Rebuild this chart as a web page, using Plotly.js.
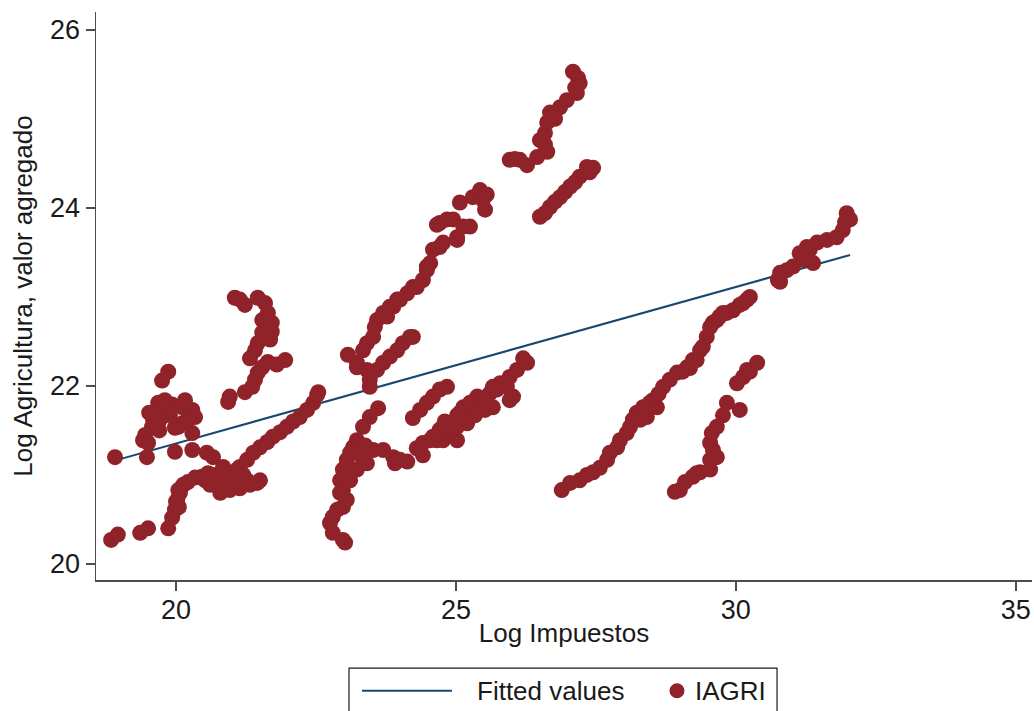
<!DOCTYPE html>
<html>
<head>
<meta charset="utf-8">
<script src="https://cdn.plot.ly/plotly-3.0.1.min.js"></script>
<style>
html,body{margin:0;padding:0;background:#fff;}
#chart{width:1034px;height:711px;}
</style>
</head>
<body>
<div id="chart"></div>
<script>
// ---- Data ----
// Fitted values (linear fit)
const fitX = [18.84, 32.04];
const fitY = [21.15, 23.47];

// IAGRI observations, grouped by visible curve
const x_g1 = [18.84,18.96,19.36,19.50,19.86,19.93,19.98,20.02,20.07,20.13,20.05,20.21,20.34,20.46,20.57,20.55,20.66,20.84,20.73,20.79,20.96,21.27,21.45,21.50,20.84,21.02,21.14,21.27,21.38,21.50,21.63,21.73,21.86,21.98,22.09,22.21,22.34,22.45,22.52,22.54,20.61,20.70,20.88,21.05,21.14,21.32,20.93,21.09,21.20,20.52,20.04,20.00];
const y_g1 = [20.27,20.33,20.35,20.40,20.40,20.52,20.61,20.72,20.80,20.89,20.64,20.92,20.97,20.98,21.02,21.25,21.20,21.09,20.94,20.80,20.83,20.94,20.91,20.94,20.94,21.02,21.09,21.17,21.25,21.31,21.37,21.43,21.48,21.54,21.60,21.65,21.73,21.81,21.90,21.93,20.89,21.00,20.89,20.92,20.85,20.89,21.00,21.06,21.00,20.94,20.83,20.70];

const x_g2 = [18.91,19.75,19.86,19.68,19.75,19.63,19.59,19.57,19.45,19.41,19.50,19.93,20.11,20.29,20.34,20.21,20.11,20.04,19.98,19.48,19.98,20.29,20.29,19.80,19.89,19.71,20.16,19.52,19.70];
const y_g2 = [21.20,22.06,22.16,21.81,21.76,21.70,21.62,21.54,21.45,21.39,21.36,21.79,21.76,21.73,21.65,21.62,21.58,21.54,21.53,21.20,21.26,21.28,21.47,21.84,21.67,21.62,21.84,21.70,21.50];

const x_g3 = [21.05,21.23,21.46,21.59,21.64,21.71,21.71,21.54,21.46,21.41,21.32,21.54,21.64,21.80,21.95,21.41,21.36,21.23,20.96,20.93,21.14,21.54,21.68,21.46];
const y_g3 = [22.99,22.91,22.99,22.93,22.82,22.71,22.61,22.60,22.48,22.40,22.31,22.21,22.27,22.24,22.29,22.07,21.99,21.93,21.88,21.82,22.97,22.74,22.52,22.15];

const x_g4 = [23.61,23.46,23.34,23.23,23.16,23.52,23.41,23.05,22.98,22.93,22.98,23.05,22.98,22.80,22.75,22.80,22.98,23.02,23.11,23.29,23.23,23.11,22.93,22.88,23.38,23.70,23.88,24.00,24.13,23.91];
const y_g4 = [21.75,21.65,21.54,21.39,21.31,21.28,21.13,21.17,21.06,20.94,20.83,20.72,20.64,20.53,20.46,20.35,20.27,20.24,21.25,21.22,21.06,20.94,20.80,20.61,21.33,21.28,21.20,21.17,21.15,21.13];

const x_g5 = [23.34,23.41,23.52,23.55,23.59,23.70,23.82,23.95,24.13,24.23,24.41,24.48,24.54,24.59,24.71,24.77,25.02,25.02,24.71,24.95,25.13,25.25,25.07,25.30,25.43,25.48,25.52,25.55,24.84,24.66,24.00,23.88,23.77,24.30,24.48,23.07,23.23,23.41,23.46,23.46,23.23,23.59,23.70,23.82,23.95,24.05,24.18,24.23];
const y_g5 = [22.40,22.48,22.55,22.66,22.74,22.82,22.89,22.97,23.04,23.11,23.19,23.30,23.38,23.53,23.56,23.61,23.67,23.64,23.83,23.87,23.79,23.79,24.06,24.12,24.20,24.09,23.98,24.15,23.87,23.81,22.97,22.89,22.78,23.11,23.34,22.35,22.26,22.18,22.07,21.99,22.21,22.18,22.26,22.33,22.40,22.48,22.55,22.55];

const x_g6 = [24.23,24.36,24.48,24.59,24.71,24.84];
const y_g6 = [21.64,21.73,21.81,21.88,21.96,21.99];

const x_g7 = [24.41,24.30,24.41,24.54,24.66,24.77,24.84,25.02,24.89,25.02,25.20,25.07,25.13,25.25,25.38,25.48,25.66,25.61,25.66,25.79,26.02,25.96,25.91,25.96,26.09,26.20,26.27,24.80,24.95,24.84,25.20,25.30,25.43,25.55,25.73,25.02,24.71,24.59,25.34,25.52];
const y_g7 = [21.22,21.30,21.36,21.39,21.39,21.39,21.43,21.39,21.51,21.54,21.58,21.70,21.76,21.81,21.88,21.84,21.76,21.92,21.99,22.03,21.88,21.84,21.99,22.10,22.18,22.31,22.26,21.60,21.58,21.54,21.73,21.81,21.84,21.88,21.96,21.67,21.51,21.43,21.67,21.73];

const x_g8 = [25.96,26.14,26.27,26.45,26.63,26.59,26.50,26.59,26.63,26.68,26.86,26.98,27.16,27.21,27.09,27.18,27.13,26.77,26.05];
const y_g8 = [24.54,24.54,24.48,24.57,24.63,24.71,24.76,24.84,24.96,25.07,25.13,25.21,25.29,25.40,25.53,25.46,25.35,25.00,24.55];

const x_g9 = [26.50,26.59,26.68,26.77,26.86,26.95,27.04,27.13,27.21,27.34,27.45,27.39];
const y_g9 = [23.90,23.94,24.01,24.07,24.12,24.18,24.24,24.29,24.35,24.46,24.45,24.40];

const x_g10 = [26.89,27.04,27.21,27.34,27.45,27.57,27.70,27.75,27.88,27.93,28.05,28.11,28.16,28.23,28.34,28.46,28.52,28.59,28.41,28.29,28.38,28.70,28.82,28.95,29.05,29.18,29.30,29.36,29.41,29.48,29.59,29.71,29.84,29.95,30.07,30.20,30.25,29.66,29.54,29.23,29.13,30.13,29.77,28.62];
const y_g10 = [20.83,20.91,20.94,21.00,21.03,21.08,21.17,21.25,21.31,21.39,21.47,21.54,21.62,21.70,21.76,21.81,21.84,21.76,21.65,21.62,21.73,21.99,22.07,22.15,22.16,22.20,22.29,22.40,22.44,22.55,22.71,22.78,22.82,22.85,22.91,22.97,23.00,22.74,22.66,22.29,22.21,22.93,22.82,21.91];

const x_g11 = [28.91,29.09,29.23,29.36,29.54,29.54,29.66,29.59,29.54,29.57,29.66,29.77,29.84,30.07,30.02,30.13,30.25,30.38,30.20,29.00,29.30];
const y_g11 = [20.81,20.92,20.98,21.03,21.06,21.17,21.20,21.28,21.36,21.47,21.54,21.67,21.81,21.73,22.03,22.10,22.16,22.26,22.18,20.83,21.02];

const x_g12 = [30.75,30.79,30.91,31.02,31.14,31.20,31.38,31.27,31.45,31.63,31.80,31.91,31.98,32.04,30.79,31.32,31.95];
const y_g12 = [23.19,23.27,23.30,23.34,23.49,23.42,23.38,23.56,23.61,23.64,23.67,23.75,23.94,23.87,23.17,23.53,23.84];

const xTicks = [20, 25, 30, 35];
const yTicks = [20, 22, 24, 26];

const seriesNames = ["Fitted values", "IAGRI"];
const xTitle = "Log Impuestos";
const yTitle = "Log Agricultura, valor agregado";

// ---- Build ----
const iagriX = [].concat(x_g1, x_g2, x_g3, x_g4, x_g5, x_g6, x_g7, x_g8, x_g9, x_g10, x_g11, x_g12);
const iagriY = [].concat(y_g1, y_g2, y_g3, y_g4, y_g5, y_g6, y_g7, y_g8, y_g9, y_g10, y_g11, y_g12);

const FONT = "Liberation Sans, Arial, Helvetica, sans-serif";
const AXIS_COL = "#4d4d4d";
const TXT_COL = "#1a1a1a";
const LINE_COL = "#1a476f";
const MARK_COL = "#90222a";

const traces = [
  {
    x: fitX, y: fitY, type: "scatter", mode: "lines", name: seriesNames[0],
    line: {color: LINE_COL, width: 2}, showlegend: false
  },
  {
    x: iagriX, y: iagriY, type: "scatter", mode: "markers", name: seriesNames[1],
    marker: {color: MARK_COL, size: 16, line: {width: 0}}, showlegend: false
  }
];

// Legend box drawn below the plot (paper coordinates)
const legY = -0.195;
const shapes = [
  {type: "rect", xref: "paper", yref: "paper", x0: 0.2703, x1: 0.7276, y0: -0.155, y1: -0.25,
   line: {color: TXT_COL, width: 1.2}, fillcolor: "rgba(0,0,0,0)"},
  {type: "line", xref: "paper", yref: "paper", x0: 0.2842, x1: 0.3803, y0: legY, y1: legY,
   line: {color: LINE_COL, width: 2}},
  {type: "circle", xref: "paper", yref: "paper", x0: 0.6127, x1: 0.6287, y0: legY + 0.0132, y1: legY - 0.0132,
   line: {width: 0}, fillcolor: MARK_COL}
];
const annotations = [
  {xref: "paper", yref: "paper", x: 0.4049, y: legY, xanchor: "left", yanchor: "middle",
   text: seriesNames[0], showarrow: false, font: {family: FONT, size: 26, color: TXT_COL}},
  {xref: "paper", yref: "paper", x: 0.6378, y: legY, xanchor: "left", yanchor: "middle",
   text: seriesNames[1], showarrow: false, font: {family: FONT, size: 26, color: TXT_COL}}
];

const layout = {
  width: 1034, height: 711,
  paper_bgcolor: "#ffffff", plot_bgcolor: "#ffffff",
  font: {family: FONT, size: 26, color: TXT_COL},
  margin: {l: 96, r: 2, t: 12, b: 131, pad: 0, autoexpand: false},
  showlegend: false,
  xaxis: {
    range: [18.57, 35.29], tickmode: "array", tickvals: xTicks,
    showgrid: false, zeroline: false,
    showline: true, linecolor: AXIS_COL, linewidth: 1.5,
    ticks: "outside", ticklen: 9, tickwidth: 1.5, tickcolor: AXIS_COL,
    ticklabelstandoff: -4,
    tickfont: {family: FONT, size: 27, color: TXT_COL},
    title: {text: xTitle, font: {family: FONT, size: 26, color: TXT_COL}, standoff: 0},
    automargin: false
  },
  yaxis: {
    range: [19.82, 26.2], tickmode: "array", tickvals: yTicks,
    showgrid: false, zeroline: false,
    showline: true, linecolor: AXIS_COL, linewidth: 1.5,
    ticks: "outside", ticklen: 9, tickwidth: 1.5, tickcolor: AXIS_COL,
    tickfont: {family: FONT, size: 27, color: TXT_COL},
    title: {text: yTitle, font: {family: FONT, size: 26, color: TXT_COL}, standoff: 10},
    automargin: false
  },
  shapes: shapes,
  annotations: annotations
};

Plotly.newPlot("chart", traces, layout, {displayModeBar: false, staticPlot: true});
</script>
</body>
</html>
